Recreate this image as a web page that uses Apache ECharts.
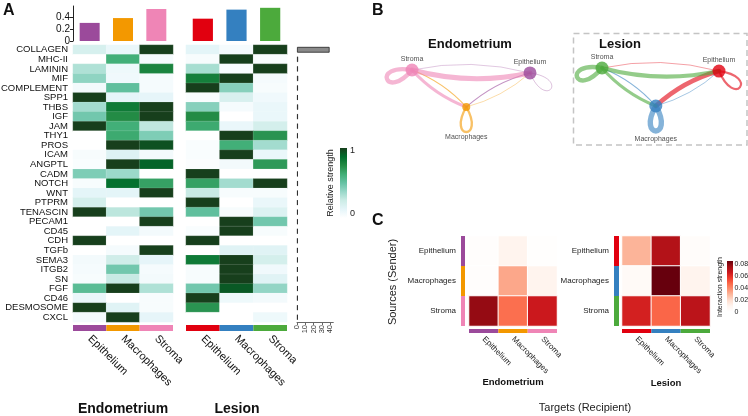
<!DOCTYPE html>
<html><head><meta charset="utf-8">
<script src="https://cdn.jsdelivr.net/npm/echarts@6/dist/echarts.min.js"></script>
<style>html,body{margin:0;padding:0;background:#fff}#c{width:748px;height:416px}</style>
</head><body><div id="c"></div>
<script>
// ---------------- DATA ----------------
const cellTypes = ['Epithelium','Macrophages','Stroma'];
const pathways = ['COLLAGEN','MHC-II','LAMININ','MIF','COMPLEMENT','SPP1','THBS','IGF','JAM','THY1','PROS','ICAM','ANGPTL','CADM','NOTCH','WNT','PTPRM','TENASCIN','PECAM1','CD45','CDH','TGFb','SEMA3','ITGB2','SN','FGF','CD46','DESMOSOME','CXCL'];
const endoOutgoing = [0.30, 0.38, 0.53];
const lesionOutgoing = [0.37, 0.52, 0.55];
const barAxisTicks = [0, 0.2, 0.4];
const endoRelative = [
[0.20,0.10,1.00],[0.00,0.62,0.05],[0.32,0.08,0.78],[0.40,0.07,0.05],[0.06,0.52,0.05],
[1.00,0.12,0.12],[0.35,0.82,1.00],[0.47,0.75,1.00],[1.00,0.62,0.28],[0.00,0.64,0.44],
[0.00,1.00,0.95],[0.04,0.16,0.06],[0.03,1.00,0.90],[0.44,0.37,0.00],[0.04,0.86,0.67],
[0.13,0.13,1.00],[0.21,0.00,0.00],[1.00,0.29,0.47],[0.00,0.00,1.00],[0.00,0.13,0.06],
[1.00,0.00,0.00],[0.00,0.05,1.00],[0.06,0.23,0.12],[0.05,0.47,0.05],[0.04,0.26,0.06],
[0.54,1.00,0.32],[0.10,0.00,0.04],[1.00,0.15,0.04],[0.06,1.00,0.12]];
const lesionRelative = [
[0.13,0.05,1.00],[0.04,1.00,0.03],[0.34,0.03,1.00],[0.80,1.00,0.05],[1.00,0.42,0.04],
[0.03,0.19,0.07],[0.42,0.05,0.10],[0.75,0.00,0.10],[0.64,0.10,0.21],[0.00,1.00,0.72],
[0.03,0.62,0.35],[0.03,1.00,0.10],[0.02,0.06,0.70],[1.00,0.00,0.00],[0.67,0.35,1.00],
[0.26,0.04,0.04],[1.00,0.00,0.10],[0.52,0.04,0.17],[0.00,1.00,0.47],[0.03,1.00,0.04],
[1.00,0.00,0.00],[0.00,0.15,0.15],[0.82,1.00,0.21],[0.04,1.00,0.07],[0.04,1.00,0.15],
[0.47,0.93,0.39],[1.00,0.08,0.06],[0.72,0.00,0.00],[0.00,0.00,0.08]];
const pathwayTotal = [39.5,1.3,1.2,1.4,1.2,1.1,1.3,1.2,1.2,1.1,1.2,1.1,1.2,1.1,1.2,1.1,1.0,1.1,1.1,1.0,1.0,1.0,1.1,1.0,1.0,1.1,1.0,1.0,1.0];
const pathwayAxisTicks = [0,10,20,30,40];
// interaction strength: rows = source, cols = target (Epithelium, Macrophages, Stroma)
const endoInteraction = [[0.002,0.010,0.001],[0.002,0.033,0.010],[0.078,0.046,0.066]];
const lesionInteraction = [[0.030,0.072,0.003],[0.005,0.085,0.010],[0.064,0.048,0.070]];
const endoNodeSize = [13, 8, 13];
const lesionNodeSize = [13, 13, 13];
const relTicks = ['1','0'];
const interTicks = [0, 0.02, 0.04, 0.06, 0.08];

// ---------------- STYLE / LAYOUT ----------------
const FONT = 'Liberation Sans, Arial, sans-serif';
const endoColors = ['#9b4a9b','#f39800','#ef85b6'];
const lesionColors = ['#e1000f','#3480c0','#4caa3c'];
const greens = ['#ffffff','#e5f5f9','#ccece6','#99d8c9','#66c2a4','#41ae76','#238b45','#006d2c','#173f1c'];
const reds = ['#ffffff','#fff5f0','#fee0d2','#fcbba1','#fc9272','#fb6a4a','#ef3b2c','#cb181d','#a50f15','#67000d'];
const interMax = 0.085;
const nodeLayout = [[1,0.08],[0.46,1],[0,0]];      // Epithelium, Macrophages, Stroma
const loopVec = [[21,16],[0,25],[-25,9]];
const labelPos = ['top','bottom','top'];
const labelDist = [1, 23, 1];

const grids = [], xAxes = [], yAxes = [], series = [];
function addGrid(g, xa, ya) {
  grids.push(Object.assign({outerBoundsMode:'none', containLabel:false}, g));
  const gi = grids.length - 1;
  xAxes.push(Object.assign({gridIndex: gi}, xa));
  yAxes.push(Object.assign({gridIndex: gi}, ya));
  return gi;
}
const lbl = (o) => Object.assign({fontFamily: FONT, color: '#111'}, o);

// --- Panel A top bars
function topBars(left, width, vals, colors, showAxis) {
  const gi = addGrid({left, top: 6, width, height: 35},
    {type:'category', data: cellTypes, show:false},
    {type:'value', min:0, max:0.58, interval:0.2, show: showAxis,
     axisLine:{show:true, lineStyle:{color:'#222'}}, axisTick:{show:true, length:3, lineStyle:{color:'#222'}},
     axisLabel: lbl({fontSize:10, margin:3, showMaxLabel:false,
       formatter: v => barAxisTicks.some(t => Math.abs(t - v) < 1e-6) ? String(+v.toFixed(1)) : ''}),
     splitLine:{show:false}});
  series.push({type:'bar', xAxisIndex:gi, yAxisIndex:gi, barWidth:'60%', silent:true,
    data: vals.map((v,i)=>({value:v, itemStyle:{color:colors[i]}}))});
}
topBars(73, 100, endoOutgoing, endoColors, true);
topBars(186, 101, lesionOutgoing, lesionColors, false);

// --- Panel A heatmaps
const greenSeries = [];
function heatA(left, width, mat, showLabels) {
  const gi = addGrid({left, top: 45, width, height: 277},
    {type:'category', data: cellTypes, show:false},
    {type:'category', data: pathways, inverse:true, show: showLabels, axisLine:{show:false}, axisTick:{show:false},
     axisLabel: lbl({fontSize:9.5, margin:5, interval:0})});
  const data = [];
  mat.forEach((row, r) => row.forEach((v, c) => data.push([c, r, v])));
  series.push({type:'heatmap', xAxisIndex:gi, yAxisIndex:gi, data, silent:true,
    itemStyle:{borderColor:'rgba(255,255,255,0.35)', borderWidth:0.4}});
  greenSeries.push(series.length - 1);
}
heatA(73, 100, endoRelative, true);
heatA(186, 101, lesionRelative, false);

function stripA(left, width, colors) {
  const gi = addGrid({left, top: 325, width, height: 6},
    {type:'category', data: cellTypes, axisLine:{show:false}, axisTick:{show:false},
     axisLabel: lbl({interval:0, rotate:-45, fontSize:11, margin:6})},
    {type:'value', min:0, max:1, show:false});
  series.push({type:'bar', xAxisIndex:gi, yAxisIndex:gi, barWidth:'100%', silent:true,
    data: colors.map(c => ({value:1, itemStyle:{color:c}}))});
}
stripA(73, 100, endoColors);
stripA(186, 101, lesionColors);

// --- row sums
(function(){
  const gi = addGrid({left: 297, top: 45, width: 36.3, height: 277},
    {type:'value', min:0, max:44, interval:10, axisLine:{show:true, lineStyle:{color:'#666'}},
     axisTick:{show:true, length:3, lineStyle:{color:'#666'}}, splitLine:{show:false},
     axisLabel: lbl({rotate:90, fontSize:7.5, margin:3, color:'#333', showMaxLabel:false,
       formatter: v => pathwayAxisTicks.includes(v) ? String(v) : ''})},
    {type:'category', data: pathways, inverse:true, show:false});
  series.push({type:'bar', xAxisIndex:gi, yAxisIndex:gi, barWidth:'60%', silent:true, data: pathwayTotal,
    itemStyle:{color:'#8a8a8a', borderColor:'#222', borderWidth:0.8}});
})();

// --- Panel B networks
function network(left, top, width, height, mat, colors, sizes) {
  const gi = addGrid({left, top, width, height},
    {type:'value', min:0, max:1, show:false},
    {type:'value', min:0, max:1, inverse:true, show:false});
  const edges = [];
  mat.forEach((row, s) => row.forEach((v, t) => edges.push([s, t, v])));
  series.push({type:'custom', xAxisIndex:gi, yAxisIndex:gi, data: edges, clip:false, silent:true,
    renderItem: function(params, api) {
      const s = api.value(0), t = api.value(1), w = api.value(2);
      const p1 = api.coord(nodeLayout[s]), p2 = api.coord(nodeLayout[t]);
      const style = {stroke: colors[s], lineWidth: 0.45 + w * 58, fill: null, opacity: 0.6, lineCap:'round'};
      if (s === t) {
        const d = loopVec[s], k = 1 / (0.75 * Math.cos(Math.PI/6)), a = Math.PI/6;
        const rot = (ang) => [k*(d[0]*Math.cos(ang) - d[1]*Math.sin(ang)), k*(d[0]*Math.sin(ang) + d[1]*Math.cos(ang))];
        const c1 = rot(a), c2 = rot(-a);
        return {type:'bezierCurve', shape:{x1:p1[0], y1:p1[1], x2:p1[0], y2:p1[1],
          cpx1:p1[0]+c1[0], cpy1:p1[1]+c1[1], cpx2:p1[0]+c2[0], cpy2:p1[1]+c2[1]}, style};
      }
      const dx = p2[0]-p1[0], dy = p2[1]-p1[1], c = 0.12;
      const cx = (p1[0]+p2[0])/2 - dy*c, cy = (p1[1]+p2[1])/2 + dx*c;
      return {type:'bezierCurve', shape:{x1:p1[0], y1:p1[1], x2:p2[0], y2:p2[1], cpx1:cx, cpy1:cy}, style};
    }});
  series.push({type:'scatter', xAxisIndex:gi, yAxisIndex:gi, clip:false, silent:true,
    label:{show:true, formatter:'{b}', fontSize:7, color:'#222', fontFamily: FONT},
    data: cellTypes.map((n, i) => ({name:n, value: nodeLayout[i], symbolSize: sizes[i],
      itemStyle:{color: colors[i]}, label:{position: labelPos[i], distance: labelDist[i]}}))});
}
network(412, 70, 118, 37, endoInteraction, endoColors, endoNodeSize);
network(602, 68, 117, 38, lesionInteraction, lesionColors, lesionNodeSize);

// --- Panel C heatmaps
const redSeries = [];
function heatC(left, mat, colors, stripLeft, stripW) {
  const gi = addGrid({left, top: 236, width: 88, height: 90},
    {type:'category', data: cellTypes, show:false},
    {type:'category', data: cellTypes, inverse:true, show:false});
  const data = [];
  mat.forEach((row, r) => row.forEach((v, c) => data.push([c, r, v])));
  series.push({type:'heatmap', xAxisIndex:gi, yAxisIndex:gi, data, silent:true,
    itemStyle:{borderColor:'#fff', borderWidth:1}});
  redSeries.push(series.length - 1);
  const g2 = addGrid({left: stripLeft, top: 236, width: stripW, height: 90},
    {type:'value', min:0, max:1, show:false},
    {type:'category', data: cellTypes, inverse:true, axisLine:{show:false}, axisTick:{show:false},
     axisLabel: lbl({fontSize:8, margin:5, color:'#222'})});
  series.push({type:'bar', xAxisIndex:g2, yAxisIndex:g2, barWidth:'100%', silent:true,
    data: colors.map(c => ({value:1, itemStyle:{color:c}}))});
  const g3 = addGrid({left, top: 329, width: 88, height: 4},
    {type:'category', data: cellTypes, axisLine:{show:false}, axisTick:{show:false},
     axisLabel: lbl({interval:0, rotate:-45, fontSize:8, margin:5, color:'#222'})},
    {type:'value', min:0, max:1, show:false});
  series.push({type:'bar', xAxisIndex:g3, yAxisIndex:g3, barWidth:'100%', silent:true,
    data: colors.map(c => ({value:1, itemStyle:{color:c}}))});
}
heatC(469, endoInteraction, endoColors, 461, 4);
heatC(622, lesionInteraction, lesionColors, 614, 5);

// --- graphics
const G = echarts.graphic;
function txt(t, x, y, size, opts) {
  opts = opts || {};
  return {type:'text', x, y, rotation: opts.rot || 0, silent:true,
    style:{text:t, font:(opts.bold?'bold ':'') + size + 'px ' + FONT, fill: opts.color || '#111',
      align: opts.align || 'center', verticalAlign:'middle'}};
}
const gStops = greens.map((c,i)=>({offset: 1 - i/(greens.length-1), color:c}));
const rStops = reds.map((c,i)=>({offset: 1 - i/(reds.length-1), color:c}));
const cbTop = 261, cbH = 51;
const graphics = [
  txt('A', 3, 11, 16, {bold:true, align:'left'}),
  txt('B', 372, 11, 16, {bold:true, align:'left'}),
  txt('C', 372, 221, 16, {bold:true, align:'left'}),
  txt('Endometrium', 123, 409, 14, {bold:true}),
  txt('Lesion', 237, 409, 14, {bold:true}),
  {type:'rect', shape:{x:340, y:148, width:7, height:70}, style:{fill: new G.LinearGradient(0,0,0,1,gStops)}, silent:true},
  txt(relTicks[0], 350, 151, 9, {align:'left', color:'#222'}),
  txt(relTicks[1], 350, 214, 9, {align:'left', color:'#222'}),
  txt('Relative strength', 331, 183, 9, {rot: Math.PI/2, color:'#222'}),
  txt('Endometrium', 470, 44, 13, {bold:true}),
  txt('Lesion', 620, 44, 13, {bold:true}),
  {type:'rect', shape:{x:573.5, y:33.5, width:173.5, height:111.5}, style:{fill:null, stroke:'#c4c4c4', lineWidth:1.5, lineDash:[6,4]}, silent:true},
  txt('Sources (Sender)', 393, 282, 11, {rot: Math.PI/2, color:'#222'}),
  txt('Targets (Recipient)', 585, 408, 11, {color:'#222'}),
  txt('Endometrium', 513, 382, 9.5, {bold:true}),
  txt('Lesion', 666, 383, 9.5, {bold:true}),
  {type:'rect', shape:{x:727, y:cbTop, width:6, height:cbH}, style:{fill: new G.LinearGradient(0,0,0,1,rStops)}, silent:true},
  txt('Interaction strength', 720, 287, 7, {rot: Math.PI/2, color:'#222'})
];
interTicks.forEach(v => {
  const y = cbTop + (interMax - v) / interMax * cbH;
  graphics.push({type:'rect', shape:{x:733, y:y-0.3, width:1.5, height:0.6}, style:{fill:'#fff'}, silent:true});
  graphics.push(txt(String(v), 734.5, y, 7, {align:'left', color:'#222'}));
});

const chart = echarts.init(document.getElementById('c'), null, {renderer:'canvas'});
chart.setOption({
  animation:false,
  backgroundColor:'#fff',
  textStyle:{fontFamily: FONT},
  grid: grids, xAxis: xAxes, yAxis: yAxes,
  visualMap: [
    {type:'continuous', show:false, min:0, max:1, seriesIndex: greenSeries, inRange:{color: greens}},
    {type:'continuous', show:false, min:0, max:interMax, seriesIndex: redSeries, inRange:{color: reds}}
  ],
  series,
  graphic: graphics
});
</script>
</body></html>
